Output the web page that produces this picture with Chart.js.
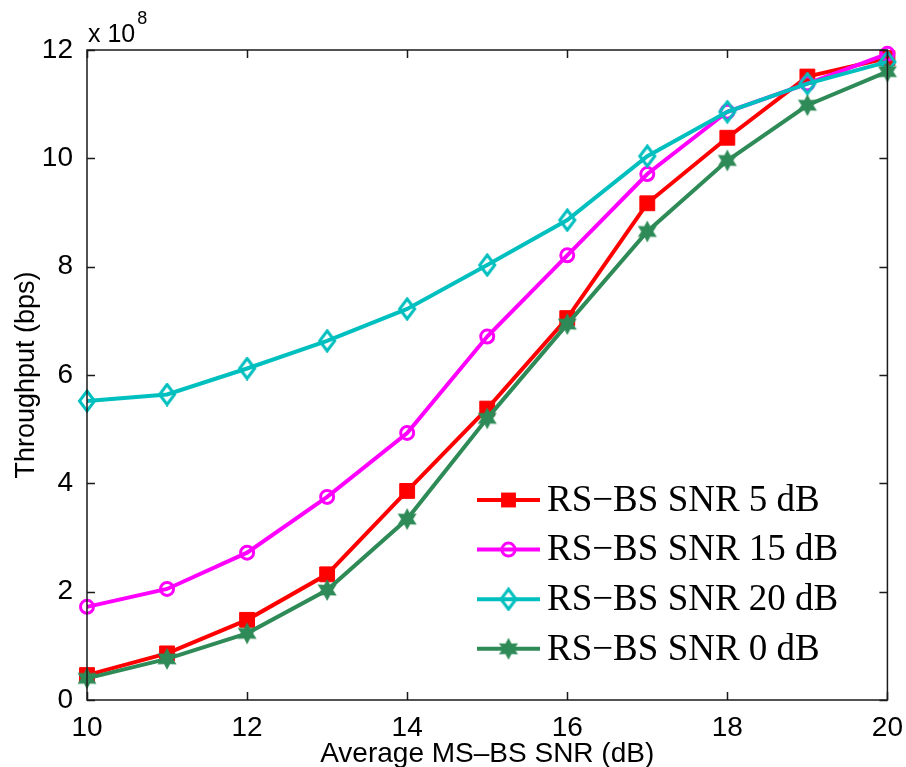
<!DOCTYPE html>
<html>
<head>
<meta charset="utf-8">
<script src="https://cdn.jsdelivr.net/npm/chart.js@4/dist/chart.umd.min.js"></script>
<style>
  html, body { margin: 0; padding: 0; background: #fff; }
  #wrap { width: 906px; height: 767px; }
</style>
</head>
<body>
<div id="wrap"><canvas id="chart" width="906" height="767"></canvas></div>
<script>
// throughput in units of 1e8 bps vs average MS-BS SNR (dB)
const snr   = [10, 11, 12, 13, 14, 15, 16, 17, 18, 19, 20];
const rs5   = [0.46, 0.86, 1.48, 2.32, 3.86, 5.38, 7.05, 9.17, 10.38, 11.51, 11.85];
const rs15  = [1.72, 2.05, 2.72, 3.75, 4.93, 6.71, 8.21, 9.71, 10.86, 11.38, 11.93];
const rs20  = [5.52, 5.64, 6.12, 6.63, 7.22, 8.03, 8.86, 10.04, 10.86, 11.38, 11.78];
const rs0   = [0.40, 0.76, 1.23, 2.03, 3.34, 5.20, 6.94, 8.65, 9.96, 10.98, 11.60];
const seriesLabels = ['RS\u2212BS SNR 5 dB', 'RS\u2212BS SNR 15 dB', 'RS\u2212BS SNR 20 dB', 'RS\u2212BS SNR 0 dB'];
const xTicks = [10, 12, 14, 16, 18, 20];
const yTicks = [0, 2, 4, 6, 8, 10, 12];

const SANS = "'Liberation Sans', Arial, Helvetica, sans-serif";
const SERIF = "'Liberation Serif', 'Times New Roman', serif";

const RED = '#ff0000', MAGENTA = '#ff00ff', CYAN = '#00bfbf', GREEN = '#2e8b57';

// --- custom marker images (diamond + hexagram) ---
function diamondImg(color) {
  const c = document.createElement('canvas');
  c.width = 20; c.height = 24;
  const g = c.getContext('2d');
  g.strokeStyle = color; g.lineWidth = 3;
  g.beginPath();
  g.moveTo(10, 2); g.lineTo(17.5, 12); g.lineTo(10, 22); g.lineTo(2.5, 12); g.closePath();
  g.stroke();
  return c;
}
function starImg(color) {
  const c = document.createElement('canvas');
  c.width = 24; c.height = 24;
  const g = c.getContext('2d');
  g.fillStyle = color;
  g.beginPath();
  for (let i = 0; i < 12; i++) {
    const r = i % 2 === 0 ? 11 : 6;
    const a = -Math.PI / 2 + i * Math.PI / 6;
    const px = 12 + r * Math.cos(a), py = 12 + r * Math.sin(a);
    i === 0 ? g.moveTo(px, py) : g.lineTo(px, py);
  }
  g.closePath(); g.fill();
  return c;
}
const diamond = diamondImg(CYAN);
const star = starImg(GREEN);

const toPts = arr => snr.map((x, i) => ({ x, y: arr[i] }));

const datasets = [
  { label: seriesLabels[0], data: toPts(rs5), borderColor: RED, backgroundColor: RED,
    pointStyle: 'rect', pointRadius: 10.5, pointBorderWidth: 1, pointBackgroundColor: RED, order: 4 },
  { label: seriesLabels[1], data: toPts(rs15), borderColor: MAGENTA, backgroundColor: 'rgba(0,0,0,0)',
    pointStyle: 'circle', pointRadius: 6.5, pointBorderWidth: 3, pointBackgroundColor: 'rgba(0,0,0,0)', order: 3 },
  { label: seriesLabels[2], data: toPts(rs20), borderColor: CYAN, backgroundColor: 'rgba(0,0,0,0)',
    pointStyle: diamond, pointRadius: 10, order: 2 },
  { label: seriesLabels[3], data: toPts(rs0), borderColor: GREEN, backgroundColor: GREEN,
    pointStyle: star, pointRadius: 11, order: 1 },
];
datasets.forEach(d => { d.borderWidth = 4; d.tension = 0; d.clip = false; d.pointBorderColor = d.borderColor; });

// marker drawing for the legend
function drawMarker(ctx, ds, x, y) {
  ctx.save();
  if (ds.pointStyle instanceof HTMLCanvasElement) {
    ctx.drawImage(ds.pointStyle, x - ds.pointStyle.width / 2, y - ds.pointStyle.height / 2);
  } else if (ds.pointStyle === 'rect') {
    const s = ds.pointRadius * Math.SQRT1_2;
    ctx.fillStyle = ds.pointBackgroundColor;
    ctx.fillRect(x - s, y - s, 2 * s, 2 * s);
  } else {
    ctx.strokeStyle = ds.borderColor; ctx.lineWidth = ds.pointBorderWidth;
    ctx.beginPath(); ctx.arc(x, y, ds.pointRadius, 0, Math.PI * 2); ctx.stroke();
  }
  ctx.restore();
}

const matlabAxes = {
  id: 'matlabAxes',
  afterDraw(chart) {
    const { ctx, chartArea: a, scales: { x, y } } = chart;
    ctx.save();
    ctx.strokeStyle = '#1a1a1a';
    ctx.lineWidth = 1.5;
    ctx.strokeRect(a.left, a.top, a.right - a.left, a.bottom - a.top);
    ctx.beginPath();
    x.ticks.forEach(t => {
      const px = Math.round(x.getPixelForValue(t.value)) + 0.5;
      ctx.moveTo(px, a.bottom); ctx.lineTo(px, a.bottom - 8);
      ctx.moveTo(px, a.top); ctx.lineTo(px, a.top + 8);
    });
    y.ticks.forEach(t => {
      const py = Math.round(y.getPixelForValue(t.value)) + 0.5;
      ctx.moveTo(a.left, py); ctx.lineTo(a.left + 8, py);
      ctx.moveTo(a.right, py); ctx.lineTo(a.right - 8, py);
    });
    ctx.stroke();

    // exponent label
    ctx.fillStyle = '#000';
    ctx.textBaseline = 'alphabetic';
    ctx.textAlign = 'left';
    ctx.font = '25px ' + SANS;
    ctx.fillText('x 10', a.left + 1, a.top - 8);
    const w = ctx.measureText('x 10').width;
    ctx.font = '18px ' + SANS;
    ctx.fillText('8', a.left + 3 + w, a.top - 26);

    // legend (inside the axes, lower right)
    const lx = 477, ly = 500, rowH = 49.6;
    chart.data.datasets.forEach((ds, i) => {
      const yy = ly + i * rowH;
      ctx.strokeStyle = ds.borderColor;
      ctx.lineWidth = 4;
      ctx.beginPath(); ctx.moveTo(lx, yy); ctx.lineTo(lx + 63, yy); ctx.stroke();
      drawMarker(ctx, ds, lx + 31.5, yy);
      ctx.fillStyle = '#000';
      ctx.font = '37px ' + SERIF;
      ctx.textBaseline = 'middle';
      ctx.fillText(ds.label, lx + 70, yy + 1);
    });
    ctx.restore();
  }
};

new Chart(document.getElementById('chart'), {
  type: 'line',
  data: { datasets },
  options: {
    responsive: false,
    animation: false,
    events: [],
    layout: { padding: { top: 50, right: 18, left: 0, bottom: 0 } },
    plugins: { legend: { display: false }, tooltip: { enabled: false } },
    scales: {
      x: {
        type: 'linear', min: 10, max: 20,
        afterBuildTicks: s => { s.ticks = xTicks.map(v => ({ value: v })); },
        afterFit: s => { s.height = 67; },
        grid: { display: false },
        border: { display: false },
        ticks: { color: '#000', font: { family: SANS, size: 28 }, padding: 3, maxRotation: 0 },
        title: { display: true, text: 'Average MS\u2013BS SNR (dB)', color: '#000',
                 font: { family: SANS, size: 28 }, padding: { top: 0, bottom: -4 } }
      },
      y: {
        type: 'linear', min: 0, max: 12,
        afterBuildTicks: s => { s.ticks = yTicks.map(v => ({ value: v })); },
        afterFit: s => { s.width = 87; },
        grid: { display: false },
        border: { display: false },
        ticks: { color: '#000', font: { family: SANS, size: 28 }, padding: 6 },
        title: { display: true, text: 'Throughput (bps)', color: '#000',
                 font: { family: SANS, size: 27 }, padding: { top: 10, bottom: 0 } }
      }
    }
  },
  plugins: [matlabAxes]
});
</script>
</body>
</html>
